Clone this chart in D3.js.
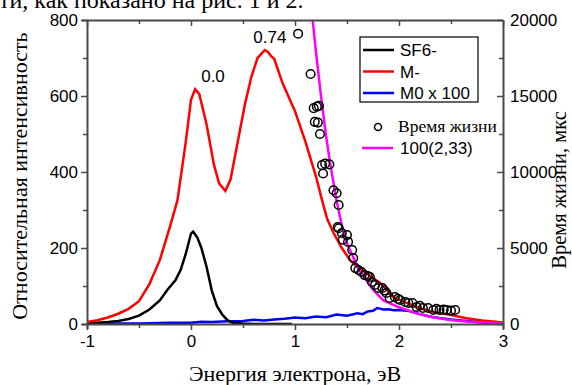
<!DOCTYPE html>
<html><head><meta charset="utf-8">
<script src="https://cdn.jsdelivr.net/npm/d3@7"></script>
<style>body{margin:0;background:#fff}svg{display:block}</style>
</head><body>
<svg id="c" width="572" height="385"></svg>
<script>
// ---- data ----
const xTicks = [-1, 0, 1, 2, 3];
const yLeftTicks = [0, 200, 400, 600, 800];
const yRightTicks = [0, 5000, 10000, 15000, 20000];

const sf6X = [-1, -0.9, -0.8, -0.7, -0.6, -0.5, -0.4, -0.3, -0.23, -0.15, -0.1, -0.05, 0.0, 0.02, 0.06, 0.1, 0.15, 0.2, 0.25, 0.3, 0.35, 0.4, 0.5, 0.6, 0.8, 0.97];
const sf6Y = [1, 3, 5, 8, 13, 22, 38, 62, 89, 115, 142, 185, 238, 243, 228, 200, 150, 88, 47, 25, 10, 3, 1, 0, 0, 0];

const mX = [-1, -0.9, -0.8, -0.7, -0.6, -0.5, -0.4, -0.3, -0.2, -0.13, -0.05, 0.0, 0.04, 0.08, 0.15, 0.22, 0.27, 0.33, 0.38, 0.45, 0.52, 0.58, 0.64, 0.68, 0.71, 0.74, 0.77, 0.8, 0.88, 1.0, 1.1, 1.2, 1.26, 1.31, 1.37, 1.45, 1.53, 1.6, 1.69, 1.75, 1.82, 1.9, 1.94, 2.05, 2.17, 2.3, 2.49, 2.65, 2.8, 3.0];
const mY = [5, 10, 17, 27, 40, 60, 105, 168, 258, 326, 480, 590, 618, 605, 525, 420, 370, 350, 380, 480, 580, 650, 700, 712, 721, 716, 705, 698, 634, 560, 480, 390, 326, 276, 240, 200, 168, 150, 134, 120, 108, 85, 72, 58, 45, 33, 24, 15, 9, 4];

const m0X = [-1, -0.7, -0.5, -0.2, 0, 0.1, 0.2, 0.35, 0.5, 0.6, 0.7, 0.8, 0.9, 1.0, 1.1, 1.2, 1.3, 1.4, 1.5, 1.6, 1.65, 1.7, 1.75, 1.79, 1.85, 1.9, 1.95, 2.0, 2.1, 2.2, 2.33, 2.5, 2.65, 2.8, 3.0];
const m0Y = [0, 1, 1, 3, 3, 6, 5, 7, 8, 11, 9, 12, 14, 17, 15, 20, 18, 25, 22, 28, 26, 33, 35, 42, 38, 39, 36, 37, 34, 26, 18, 12, 8, 4, 2];

const fitX = [1.15, 1.17, 1.2, 1.25, 1.3, 1.34, 1.4, 1.45, 1.5, 1.56, 1.62, 1.69, 1.75, 1.85, 2.0, 2.17, 2.3, 2.49, 2.7, 2.9, 3.0];
const fitY = [21500, 20000, 18000, 15000, 12300, 10500, 8100, 6500, 5300, 4400, 3500, 2850, 2250, 1550, 1100, 700, 480, 260, 130, 60, 40];

const lifeX = [1.03, 1.15, 1.18, 1.21, 1.23, 1.19, 1.22, 1.24, 1.26, 1.29, 1.33, 1.27, 1.37, 1.40, 1.42, 1.41, 1.42, 1.45, 1.46, 1.50, 1.51, 1.55, 1.56, 1.58, 1.61, 1.64, 1.67, 1.70, 1.72, 1.74, 1.77, 1.80, 1.84, 1.86, 1.88, 1.91, 1.96, 1.99, 2.01, 2.06, 2.09, 2.13, 2.17, 2.20, 2.23, 2.28, 2.33, 2.36, 2.39, 2.43, 2.46, 2.50, 2.54];
const lifeY = [19100, 16450, 14200, 14300, 14350, 13300, 13250, 12500, 10450, 10550, 10500, 9900, 8800, 8600, 7830, 6380, 6300, 5990, 5550, 5850, 5400, 4870, 4340, 3680, 3550, 3420, 3220, 3150, 3090, 2760, 2570, 2370, 2370, 2200, 2040, 1710, 1780, 1650, 1580, 1450, 1380, 1380, 1120, 1200, 1050, 1050, 920, 1000, 920, 950, 920, 880, 920];

const seriesNames = ["SF6-", "M-", "M0 x 100"];
const seriesColors = ["#000000", "#ff0000", "#0000ff"];
const peakLabels = [{x: 0.0, y: 618, t: "0.0"}, {x: 0.72, y: 721, t: "0.74"}];

// ---- layout ----
const svg = d3.select("#c");
const L = 87, R = 503, T = 20, B = 324;
const x = d3.scaleLinear().domain([-1, 3]).range([L, R]);
const yL = d3.scaleLinear().domain([0, 800]).range([B, T]);
const yR = d3.scaleLinear().domain([0, 20000]).range([B, T]);
const sans = "'Liberation Sans', Arial, sans-serif";
const serif = "'Liberation Serif', 'Times New Roman', serif";
const axisCol = "#4a4a4a";

// top text fragment (from surrounding document)
svg.append("text").attr("x", -1).attr("y", 8).attr("font-family", serif).attr("font-size", 24)
  .attr("fill", "#000").text("ти, как показано на рис. 1 и 2.");

svg.append("defs").append("clipPath").attr("id", "clip")
  .append("rect").attr("x", L).attr("y", T).attr("width", R - L).attr("height", B - T);

const plot = svg.append("g").attr("clip-path", "url(#clip)");

const mk = (xs, ys) => xs.map((v, i) => [v, ys[i]]);
const lineL = d3.line().x(d => x(d[0])).y(d => yL(d[1]));
const lineR = d3.line().x(d => x(d[0])).y(d => yR(d[1]));

plot.append("path").datum(mk(m0X, m0Y)).attr("d", lineL).attr("fill", "none").attr("stroke", "#0000ff").attr("stroke-width", 2.5);
plot.append("path").datum(mk(sf6X, sf6Y)).attr("d", lineL).attr("fill", "none").attr("stroke", "#000").attr("stroke-width", 2.5);
plot.append("path").datum(mk(mX, mY)).attr("d", lineL).attr("fill", "none").attr("stroke", "#ff0000").attr("stroke-width", 2.5);
plot.append("path").datum(mk(fitX, fitY)).attr("d", lineR).attr("fill", "none").attr("stroke", "#ff00ff").attr("stroke-width", 2.5);

plot.selectAll("circle.life").data(mk(lifeX, lifeY)).enter().append("circle")
  .attr("cx", d => x(d[0])).attr("cy", d => yR(d[1])).attr("r", 4.3)
  .attr("fill", "none").attr("stroke", "#000").attr("stroke-width", 1.5);

// peak labels
svg.selectAll("text.pk").data(peakLabels).enter().append("text")
  .attr("x", (d, i) => x(d.x) + (i === 0 ? 22 : 4)).attr("y", d => yL(d.y) - 7)
  .attr("text-anchor", "middle").attr("font-family", sans).attr("font-size", 17).text(d => d.t);

// axes
const axG = svg.append("g");
const bottomAx = d3.axisBottom(x).tickValues([-1, -0.5, 0, 0.5, 1, 1.5, 2, 2.5, 3])
  .tickFormat(d => xTicks.includes(d) ? String(d) : "").tickSize(5).tickPadding(3);
const gb = axG.append("g").attr("transform", `translate(0,${B})`).call(bottomAx);
gb.selectAll(".tick line").attr("y2", d => xTicks.includes(d) ? 6 : 4);

const topAx = d3.axisTop(x).tickValues([-1, -0.5, 0, 0.5, 1, 1.5, 2, 2.5, 3]).tickFormat("").tickSizeInner(-5).tickSizeOuter(0);
const gt = axG.append("g").attr("transform", `translate(0,${T})`).call(topAx);
gt.selectAll(".tick line").attr("y2", d => xTicks.includes(d) ? 6 : 4);

const leftAx = d3.axisLeft(yL).tickValues([0, 100, 200, 300, 400, 500, 600, 700, 800])
  .tickFormat(d => yLeftTicks.includes(d) ? d : "").tickSize(5).tickPadding(4);
const gl = axG.append("g").attr("transform", `translate(${L},0)`).call(leftAx);
gl.selectAll(".tick line").attr("x2", d => yLeftTicks.includes(d) ? -6 : -4);

const rightAx = d3.axisRight(yR).tickValues([0, 2500, 5000, 7500, 10000, 12500, 15000, 17500, 20000])
  .tickFormat(d => yRightTicks.includes(d) ? d : "").tickSizeInner(-5).tickSizeOuter(0).tickPadding(7);
const gr = axG.append("g").attr("transform", `translate(${R},0)`).call(rightAx);
gr.selectAll(".tick line").attr("x2", d => yRightTicks.includes(d) ? -6 : -4);

axG.selectAll(".domain").attr("stroke", axisCol).attr("stroke-width", 2);
axG.selectAll(".tick line").attr("stroke", axisCol).attr("stroke-width", 1.5);
axG.selectAll(".tick text").attr("font-family", sans).attr("font-size", 17).attr("fill", "#000");
gb.selectAll(".tick text").attr("dy", "0.9em");

// axis titles
svg.append("text").attr("x", x(1)).attr("y", 381).attr("text-anchor", "middle")
  .attr("font-family", serif).attr("font-size", 22).text("Энергия электрона, эВ");
svg.append("text").attr("transform", `translate(27,176) rotate(-90)`).attr("text-anchor", "middle")
  .attr("font-family", serif).attr("font-size", 22).text("Относительная интенсивность");
svg.append("text").attr("transform", `translate(566,190) rotate(-90)`).attr("text-anchor", "middle")
  .attr("font-family", serif).attr("font-size", 20.5).text("Время жизни, мкс");

// legend
const lg = svg.append("g");
lg.append("rect").attr("x", 360).attr("y", 37).attr("width", 118).attr("height", 65)
  .attr("fill", "#fff").attr("stroke", "#000").attr("stroke-width", 1.2);
seriesNames.forEach((n, i) => {
  const yy = 50 + i * 21.5;
  lg.append("line").attr("x1", 363).attr("x2", 394).attr("y1", yy).attr("y2", yy)
    .attr("stroke", seriesColors[i]).attr("stroke-width", 2.5);
  lg.append("text").attr("x", 400).attr("y", yy + 6).attr("font-family", sans).attr("font-size", 17).text(n);
});
lg.append("circle").attr("cx", 378).attr("cy", 127).attr("r", 3.5).attr("fill", "none").attr("stroke", "#000").attr("stroke-width", 1.5);
lg.append("text").attr("x", 398).attr("y", 132).attr("font-family", serif).attr("font-size", 17.5).text("Время жизни");
lg.append("line").attr("x1", 362).attr("x2", 393).attr("y1", 148).attr("y2", 148).attr("stroke", "#ff00ff").attr("stroke-width", 2.5);
lg.append("text").attr("x", 400).attr("y", 154).attr("font-family", sans).attr("font-size", 17).text("100(2,33)");
</script>
</body></html>
